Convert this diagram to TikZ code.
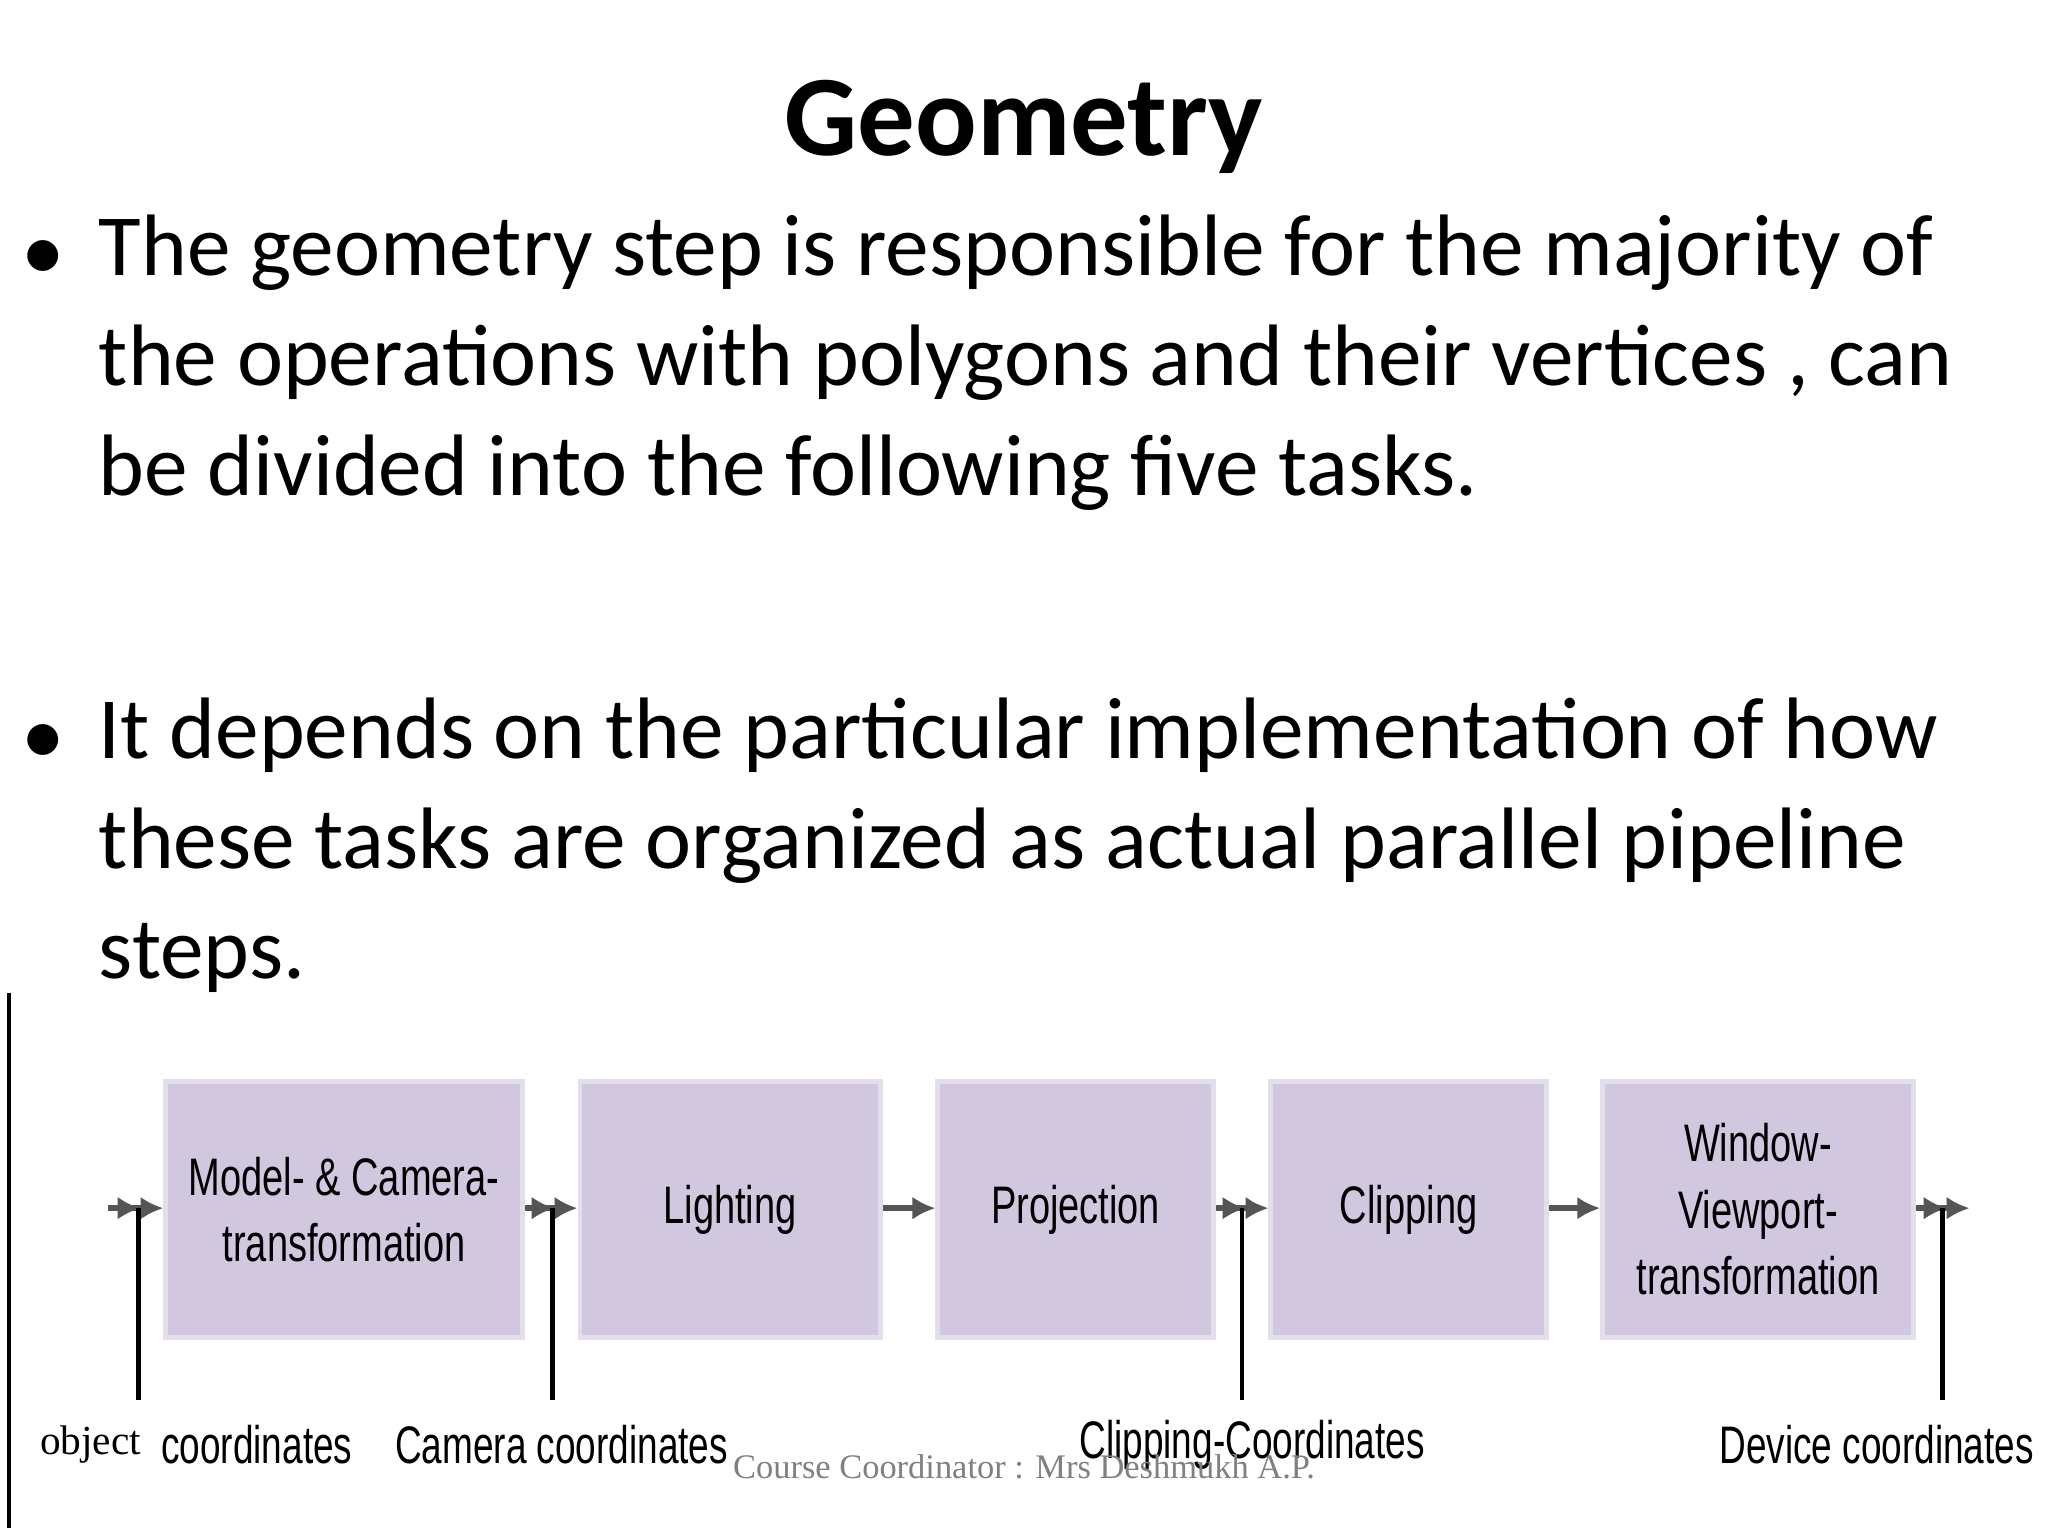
\documentclass[tikz,border=0pt]{standalone}
\usepackage{fontspec}
\setmainfont{Carlito}
\newfontfamily\narrowf{Liberation Sans}
\newfontfamily\serif{Liberation Serif}
\usetikzlibrary{arrows.meta}
\definecolor{boxc}{HTML}{D1C8E0}
\definecolor{linec}{HTML}{555555}
\tikzset{
 stage/.style={fill=boxc,draw=boxc!60!white,line width=1pt,minimum height=1.96cm,inner sep=0pt},
 stxt/.style={align=center,font=\narrowf\fontsize{11.5}{14.5}\selectfont,xscale=0.72,inner sep=0pt},
 lbl/.style={font=\narrowf\fontsize{11.5}{13}\selectfont,anchor=west,inner sep=0pt,xscale=0.70},
 flow/.style={draw=linec,line width=1.2pt,-{Latex[length=5pt,width=5pt]}},
 flow2/.style={draw=linec,line width=1.2pt,-{Latex[length=5pt,width=5pt]Latex[length=5pt,width=5pt]}},
 tick/.style={draw=black,line width=1pt},
 body/.style={anchor=north west,inner sep=0pt,text width=14.7cm,align=flush left,font=\fontsize{19}{23.9}\selectfont}
}
\begin{document}
\begin{tikzpicture}[x=0.01cm,y=-0.01cm]
\useasboundingbox (0,0) rectangle (1568,1176);
\node[font=\bfseries\fontsize{25}{30}\selectfont] (title) at (784,97) {Geometry};
\node[body] (b1) at (75,164)
 {The geometry step is responsible for the majority of the operations with polygons and their vertices , can be divided into the following five tasks.};
\node[font=\fontsize{19}{23.9}\selectfont,anchor=base] (d1) at (33,215) {•};
\node[body] (b2) at (75,534)
 {It depends on the particular implementation of how these tasks are organized as actual parallel pipeline steps.};
\node[font=\fontsize{19}{23.9}\selectfont,anchor=base] (d2) at (33,585) {•};
\draw[tick] (7,760) -- (7,1170);
% boxes
\node[stage,minimum width=2.73cm] (m) at (263.5,926) {};
\node[stage,minimum width=2.30cm] (l) at (559,926) {};
\node[stage,minimum width=2.11cm] (p) at (823.5,926) {};
\node[stage,minimum width=2.11cm] (c) at (1078.5,926) {};
\node[stage,minimum width=2.38cm] (w) at (1346,926) {};
\node[stxt] (mt) at (m) {Model- \& Camera-\\transformation};
\node[stxt] (lt) at (l) {Lighting};
\node[stxt] (pt) at (p) {Projection};
\node[stxt] (ct) at (c) {Clipping};
\node[stxt] (wt) at (w) {Window-\\Viewport-\\transformation};
\coordinate (in) at (83,925);
\coordinate (out) at (1508,925);
\draw[flow2] (in) -- (m.west|-in);
\draw[flow2] (m.east|-in) -- (l.west|-in);
\draw[flow] (l.east|-in) -- (p.west|-in);
\draw[flow2] (p.east|-in) -- (c.west|-in);
\draw[flow] (c.east|-in) -- (w.west|-in);
\draw[flow2] (w.east|-in) -- (out);
\coordinate (t1) at (106,925); \coordinate (t1b) at (106,1072);
\coordinate (t2) at (423,925); \coordinate (t2b) at (423,1072);
\coordinate (t3) at (951,925); \coordinate (t3b) at (951,1072);
\coordinate (t4) at (1487,925); \coordinate (t4b) at (1487,1072);
\draw[tick] (t1) -- (t1b); \draw[tick] (t2) -- (t2b); \draw[tick] (t3) -- (t3b); \draw[tick] (t4) -- (t4b);
\node[anchor=west,inner sep=0pt,font=\serif\fontsize{9}{11}\selectfont] (ob) at (30,1106) {object};
\node[lbl] (oc) at (123,1106) {coordinates};
\node[lbl] (cc) at (302,1106) {Camera coordinates};
\node[lbl] (clc) at (826,1106) {Clipping-Coordinates};
\node[lbl] (dc) at (1316,1106) {Device coordinates};
\node[font=\serif\fontsize{7.5}{9}\selectfont,text=gray] (foot) at (784,1123) {Course Coordinator : Mrs Deshmukh A.P.};
\end{tikzpicture}
\end{document}
